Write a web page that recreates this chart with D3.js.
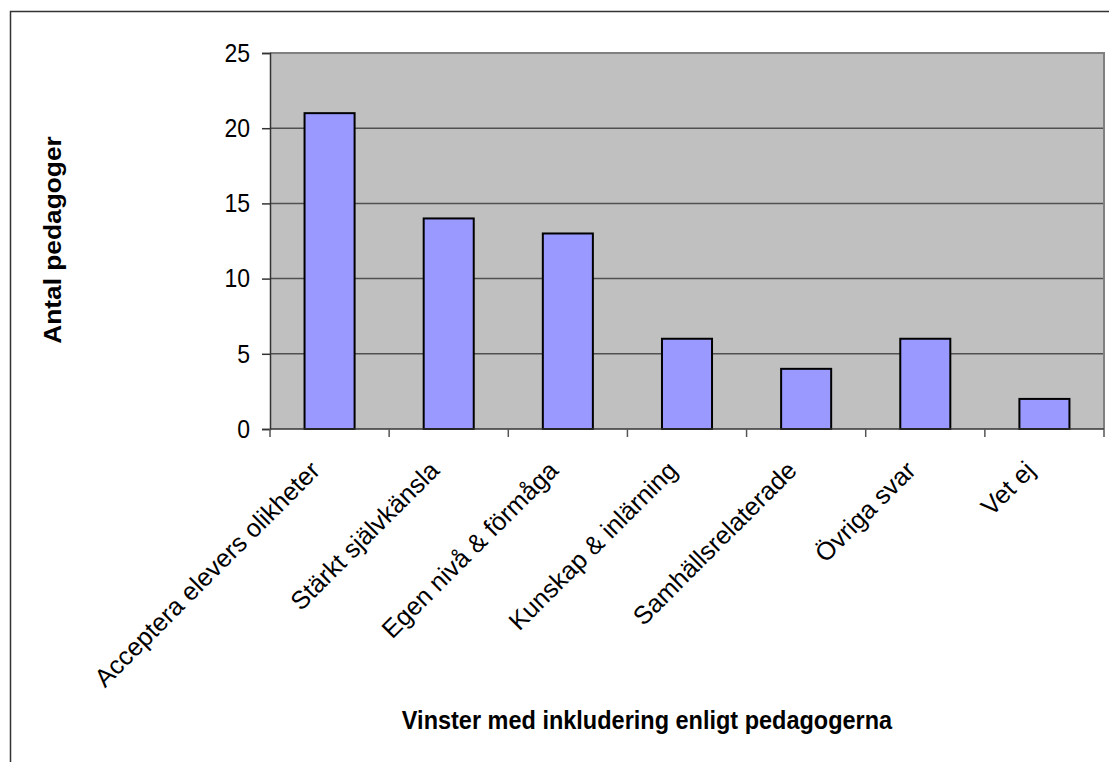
<!DOCTYPE html>
<html>
<head>
<meta charset="utf-8">
<script src="https://cdn.jsdelivr.net/npm/d3@7"></script>
<style>
  html, body { margin: 0; padding: 0; background: #fff; }
  svg { display: block; font-family: "Liberation Sans", Arial, sans-serif; }
</style>
</head>
<body>
<svg id="chart" width="1109" height="762"></svg>
<script>
// Categories and counts
const categories = [
  "Acceptera elevers olikheter",
  "Stärkt självkänsla",
  "Egen nivå & förmåga",
  "Kunskap & inlärning",
  "Samhällsrelaterade",
  "Övriga svar",
  "Vet ej"
];
const counts = [21, 14, 13, 6, 4, 6, 2];
const yTicks = [0, 5, 10, 15, 20, 25];
const xTitle = "Vinster med inkludering enligt pedagogerna";
const yTitle = "Antal pedagoger";

// Horizontal text is drawn slightly taller than wide
const textStretch = "scale(1,1.12)";

const svg = d3.select("#chart");

// Outer chart frame (runs off the right and bottom edges)
svg.append("rect")
  .attr("x", 10.5).attr("y", 11.5)
  .attr("width", 1120).attr("height", 770)
  .attr("fill", "none").attr("stroke", "#333").attr("stroke-width", 1.5);

const plot = { left: 270, right: 1104, top: 53, bottom: 429 };

const x = d3.scaleBand()
  .domain(categories)
  .range([plot.left, plot.right])
  .padding(0);

const y = d3.scaleLinear()
  .domain([0, 25])
  .range([plot.bottom, plot.top]);

// Plot background
svg.append("rect")
  .attr("x", plot.left).attr("y", plot.top)
  .attr("width", plot.right - plot.left)
  .attr("height", plot.bottom - plot.top)
  .attr("fill", "#c0c0c0");

// Horizontal gridlines
svg.append("g")
  .selectAll("line")
  .data(yTicks.filter(d => d > 0 && d < 25))
  .join("line")
  .attr("x1", plot.left).attr("x2", plot.right)
  .attr("y1", d => y(d)).attr("y2", d => y(d))
  .attr("stroke", "#505050").attr("stroke-width", 1.5);

// Plot border on top and right
svg.append("path")
  .attr("d", `M${plot.left},${plot.top}H${plot.right}V${plot.bottom}`)
  .attr("fill", "none").attr("stroke", "#808080").attr("stroke-width", 2);

// Bars
const barW = x.bandwidth() * 0.42;
svg.append("g")
  .selectAll("rect")
  .data(categories)
  .join("rect")
  .attr("x", d => x(d) + (x.bandwidth() - barW) / 2)
  .attr("y", (d, i) => y(counts[i]))
  .attr("width", barW)
  .attr("height", (d, i) => y(0) - y(counts[i]))
  .attr("fill", "#9999ff")
  .attr("stroke", "#000")
  .attr("stroke-width", 2);

// Y axis
const yAxis = svg.append("g")
  .attr("transform", `translate(${plot.left},0)`)
  .call(d3.axisLeft(y).tickValues(yTicks).tickSize(8).tickPadding(12).tickFormat(d3.format("d")));
yAxis.select(".domain").attr("stroke", "#333").attr("stroke-width", 1.5);
yAxis.selectAll(".tick line").attr("stroke", "#333").attr("stroke-width", 1.5);
yAxis.selectAll(".tick text")
  .attr("font-size", 23).attr("fill", "#000")
  .attr("font-family", "Liberation Sans, Arial, sans-serif")
  .attr("transform", textStretch);

// X axis: ticks at category boundaries
const xAxisG = svg.append("g");
xAxisG.append("line")
  .attr("x1", plot.left).attr("x2", plot.right)
  .attr("y1", plot.bottom).attr("y2", plot.bottom)
  .attr("stroke", "#333").attr("stroke-width", 1.5);
const boundaries = categories.map(d => x(d)).concat([x.range()[1]]);
xAxisG.selectAll("line.tick")
  .data(boundaries)
  .join("line")
  .attr("class", "tick")
  .attr("x1", d => d).attr("x2", d => d)
  .attr("y1", plot.bottom).attr("y2", plot.bottom + 8)
  .attr("stroke", "#555").attr("stroke-width", 1.5);

// Rotated category labels
xAxisG.selectAll("text")
  .data(categories)
  .join("text")
  .attr("transform", d => `translate(${x(d) + x.bandwidth() / 2 - 8},472) rotate(-45)`)
  .attr("text-anchor", "end")
  .attr("font-size", 25.4)
  .attr("fill", "#000")
  .text(d => d);

// Axis titles
svg.append("text")
  .attr("transform", `translate(647,729) ${textStretch}`)
  .attr("text-anchor", "middle")
  .attr("font-size", 23.5).attr("font-weight", "bold")
  .text(xTitle);

svg.append("text")
  .attr("transform", `translate(61,240) ${textStretch} rotate(-90)`)
  .attr("text-anchor", "middle")
  .attr("font-size", 23.5).attr("font-weight", "bold")
  .text(yTitle);
</script>
</body>
</html>
